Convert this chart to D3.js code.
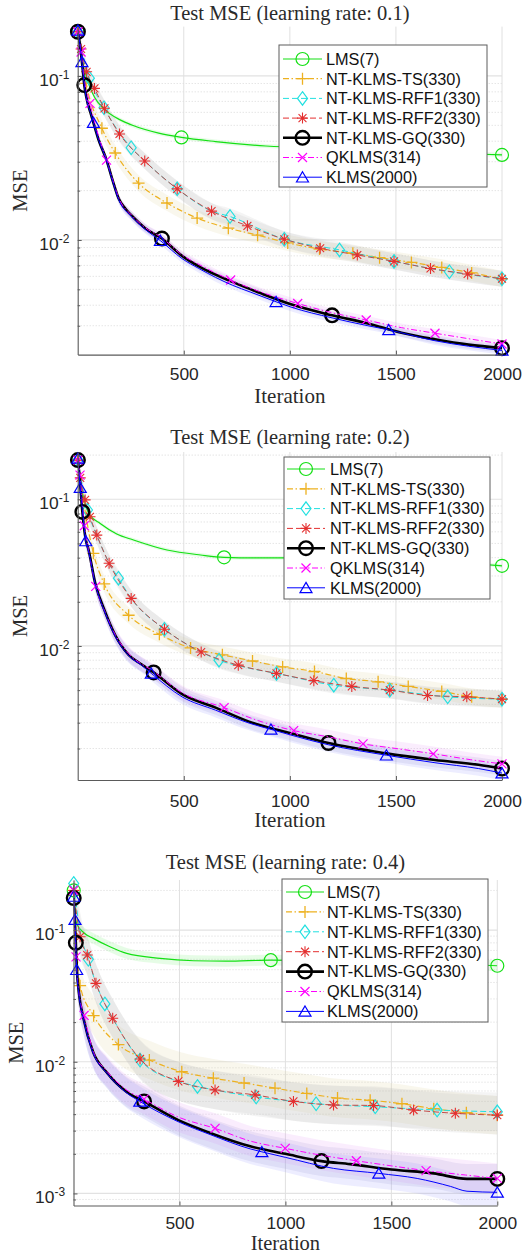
<!DOCTYPE html>
<html>
<head>
<meta charset="utf-8">
<script src="https://cdn.jsdelivr.net/npm/d3@7"></script>
<style>
  html, body { margin: 0; padding: 0; background: #fff; }
  svg { display: block; }
</style>
</head>
<body>
<svg id="chart" width="523" height="1255"></svg>
<script>
// ---- data -------------------------------------------------------------
// Each point: [iteration, test MSE, marker flag]
const seriesLabels = ["LMS(7)", "NT-KLMS-TS(330)", "NT-KLMS-RFF1(330)", "NT-KLMS-RFF2(330)",
                      "NT-KLMS-GQ(330)", "QKLMS(314)", "KLMS(2000)"];
const learningRates = ["0.1", "0.2", "0.4"];
const iterTicks = [500, 1000, 1500, 2000];
const iterLim = [0, 2000];

const mseTicks1 = [1e-2, 1e-1];
const mseTicks2 = [1e-2, 1e-1];
const mseTicks3 = [1e-3, 1e-2, 1e-1];
const mseLim1 = [0.002, 0.2];
const mseLim2 = [0.00122, 0.21];
const mseLim3 = [0.00081, 0.24];

// learning rate 0.1
const lms1 = [[1,0.186,1],[20,0.125],[40,0.1],[60,0.084],[80,0.074],[126,0.0625],[200,0.054],[255,0.0502],[382,0.0448],[489,0.0422,1],[650,0.0398],[887,0.0374],[1200,0.0362],[1600,0.0345],[2000,0.033,1]];
const ts1 = [[1,0.186,1],[40,0.09,1],[114,0.048,1],[177,0.0339,1],[287,0.0222,1],[421,0.0168,1],[563,0.0136,1],[710,0.0118,1],[848,0.0107,1],[990,0.0096,1],[1140,0.0088,1],[1297,0.0083,1],[1423,0.0078,1],[1573,0.0073,1],[1716,0.0068,1],[1857,0.0063,1],[2000,0.0058,1]];
const rffA1 = [[1,0.186,1],[55,0.097,1],[124,0.064,1],[252,0.0365,1],[316,0.0303],[469,0.0205,1],[631,0.015],[718,0.0139,1],[974,0.0101,1],[1234,0.0087,1],[1491,0.0074,1],[1752,0.0064,1],[2000,0.0058,1]];
const rffB1 = [[1,0.186,1],[16,0.146,1],[42,0.106,1],[79,0.084,1],[126,0.0635,1],[197,0.0443,1],[316,0.0303,1],[469,0.0205,1],[631,0.015,1],[800,0.0122,1],[974,0.0101,1],[1143,0.0089,1],[1318,0.0081,1],[1491,0.0074,1],[1663,0.0067,1],[1838,0.0062,1],[2000,0.0058,1]];
const gq1 = [[1,0.186,1],[12,0.15],[22,0.115],[31,0.088,1],[45,0.07],[60,0.06],[74,0.052],[98,0.041],[136,0.0307],[165,0.023],[192,0.018],[225,0.0155],[256,0.014],[318,0.0118],[397,0.0102,1],[492,0.008],[571,0.0069],[729,0.00555],[816,0.005],[887,0.0046],[1005,0.00405],[1199,0.00347,1],[1368,0.0031],[1526,0.00272],[1684,0.00248],[1842,0.0023],[2000,0.00219,1]];
const qk1 = [[1,0.186,1],[16,0.14,1],[31,0.095],[58,0.068,1],[74,0.056],[98,0.043],[136,0.0307,1],[165,0.0232],[192,0.0182],[256,0.0141],[318,0.0119],[397,0.0103],[492,0.0081],[571,0.0071],[721,0.0057,1],[887,0.0047],[1037,0.0041,1],[1199,0.0036],[1360,0.00325,1],[1526,0.00292],[1684,0.0027,1],[1842,0.0025],[2000,0.00232,1]];
const k1 = [[1,0.19,1],[12,0.15],[20,0.122,1],[31,0.088],[45,0.069],[60,0.06],[74,0.052,1],[98,0.041],[136,0.0305],[165,0.0228],[192,0.0178],[256,0.0138],[318,0.0116],[390,0.0099,1],[492,0.0077],[571,0.0067],[729,0.0053],[816,0.0048],[935,0.0042,1],[1005,0.0039],[1199,0.00335],[1368,0.003],[1466,0.00283,1],[1684,0.00243],[1842,0.00225],[2000,0.00212,1]];
const spread1 = [1.03, 1.12, 1.12, 1.12, 1.06, 1.06, 1.06];

// learning rate 0.2
const lms2 = [[1,0.185,1],[20,0.115],[40,0.088],[58,0.078],[106,0.0684],[184,0.058],[263,0.0528],[421,0.0451],[579,0.0417],[690,0.0402,1],[900,0.0398],[1210,0.0398],[1450,0.039],[1684,0.0376],[1850,0.0365],[2000,0.0352,1]];
const ts2 = [[1,0.185,1],[40,0.075,1],[74,0.0428,1],[125,0.0265,1],[240,0.0162,1],[385,0.012,1],[532,0.0097,1],[682,0.0087,1],[824,0.0079,1],[966,0.0072,1],[1116,0.0067,1],[1266,0.006,1],[1416,0.0057,1],[1558,0.0053,1],[1716,0.0049,1],[1857,0.0045,1],[2000,0.00434,1]];
const rffA2 = [[1,0.185,1],[46,0.0845,1],[90,0.057],[148,0.0368],[192,0.029,1],[252,0.0211],[409,0.013,1],[582,0.0091],[666,0.008,1],[800,0.0071],[937,0.0065,1],[1207,0.0054,1],[1471,0.005,1],[1744,0.0045,1],[2000,0.00434,1]];
const rffB2 = [[1,0.185,1],[12,0.14,1],[35,0.099,1],[58,0.076,1],[90,0.057,1],[148,0.0366,1],[252,0.0211,1],[409,0.013,1],[582,0.0091,1],[757,0.0074,1],[937,0.0065,1],[1113,0.0058,1],[1292,0.0053,1],[1471,0.005,1],[1649,0.0046,1],[1834,0.0045,1],[2000,0.00434,1]];
const gq2 = [[1,0.185,1],[10,0.135],[22,0.082,1],[38,0.053],[50,0.046],[82,0.027],[129,0.0171],[176,0.0119],[240,0.0087],[300,0.0075],[358,0.0066,1],[492,0.0047],[650,0.0038],[808,0.00305],[1005,0.00254],[1182,0.00218,1],[1447,0.00186],[1684,0.00167],[1889,0.00155],[2000,0.00146,1]];
const qk2 = [[1,0.185,1],[11,0.146,1],[20,0.1],[31,0.066,1],[50,0.046],[85,0.0255,1],[129,0.017],[176,0.012],[240,0.0089],[358,0.0067],[492,0.0048],[690,0.0038,1],[850,0.0031],[1018,0.00265,1],[1182,0.0024],[1345,0.00215,1],[1500,0.002],[1676,0.00184,1],[1850,0.00168],[2000,0.00157,1]];
const k2 = [[1,0.19,1],[12,0.12,1],[22,0.085],[38,0.052,1],[50,0.045],[82,0.0268],[129,0.0168],[176,0.0117],[240,0.0086],[300,0.0074],[347,0.0065,1],[492,0.0045],[650,0.00365],[808,0.00298],[911,0.0027,1],[1005,0.00247],[1182,0.00212],[1455,0.0018,1],[1684,0.0016],[1889,0.00146],[2000,0.00136,1]];
const spread2 = [1.03, 1.14, 1.14, 1.14, 1.12, 1.12, 1.12];

// learning rate 0.4
const lms3 = [[1,0.2,1],[8,0.13],[15,0.112],[50,0.095],[93,0.0865],[172,0.0747],[251,0.0665],[409,0.061],[567,0.0585],[720,0.058],[931,0.0591,1],[1150,0.0583],[1385,0.0575],[1700,0.056],[2000,0.0536,1]];
const ts3 = [[1,0.2,1],[10,0.095],[20,0.055],[31,0.0378,1],[95,0.0224,1],[212,0.0135,1],[358,0.0103,1],[511,0.0084,1],[660,0.0075,1],[805,0.0069,1],[951,0.0063,1],[1101,0.00575,1],[1246,0.0053,1],[1400,0.0051,1],[1550,0.0048,1],[1700,0.0044,1],[1854,0.0041,1],[2000,0.00393,1]];
const rffA3 = [[1,0.226,1],[30,0.1],[70,0.06,1],[106,0.0394],[148,0.0275,1],[185,0.0214],[314,0.0103,1],[495,0.0071],[585,0.0065,1],[668,0.0061],[862,0.0054,1],[1038,0.005],[1145,0.0048,1],[1424,0.00455,1],[1716,0.0043,1],[2000,0.00417,1]];
const rffB3 = [[1,0.2,1],[31,0.089,1],[65,0.0646,1],[106,0.0394,1],[185,0.0214,1],[314,0.0105,1],[495,0.0071,1],[668,0.0061,1],[857,0.0056,1],[1038,0.005,1],[1227,0.0047,1],[1416,0.00465,1],[1605,0.0043,1],[1802,0.00406,1],[2000,0.00393,1]];
const gq3 = [[1,0.175,1],[11,0.08,1],[16,0.05],[25,0.034],[48,0.021],[93,0.0118],[157,0.0083],[251,0.0059],[333,0.005,1],[495,0.0036],[645,0.00288],[834,0.00228],[1000,0.002],[1170,0.00176,1],[1306,0.00167],[1500,0.00152],[1700,0.00142],[1857,0.00129],[2000,0.00129,1]];
const qk3 = [[1,0.2,1],[12,0.0626,1],[25,0.034],[50,0.0225,1],[93,0.012],[157,0.0085],[251,0.0061],[333,0.0052,1],[495,0.0038],[668,0.00312,1],[834,0.0025],[999,0.0022,1],[1170,0.00195],[1335,0.00177,1],[1500,0.00162],[1664,0.00149,1],[1850,0.00138],[2000,0.0013,1]];
const k3 = [[1,0.18,1],[7,0.12,1],[15,0.05,1],[25,0.033],[48,0.0208],[93,0.0116],[157,0.0082],[251,0.0058],[313,0.005,1],[495,0.0035],[645,0.0028],[834,0.00218],[889,0.00207,1],[1000,0.00188],[1227,0.00155],[1441,0.00142,1],[1622,0.0013],[1780,0.00113],[1857,0.00104],[2000,0.00102,1]];
const spread3 = [1.1, 1.4, 1.4, 1.4, 1.3, 1.3, 1.3];

// ---- appearance -------------------------------------------------------
const styles = [
  { color: "#14e014", width: 1.2, dash: null,            marker: "o", size: 6.5, mw: 1.2 },
  { color: "#edb120", width: 1.2, dash: "6,2.5,1.5,2.5", marker: "+", size: 6,   mw: 1.3 },
  { color: "#22e0e0", width: 1,   dash: "6,3",           marker: "d", size: 5,   mw: 1.2 },
  { color: "#e43030", width: 1,   dash: "6,3",           marker: "*", size: 5.5, mw: 1.1 },
  { color: "#000000", width: 2.6, dash: null,            marker: "o", size: 6.8, mw: 2.4 },
  { color: "#ff00ff", width: 1,   dash: "6,2.5,1.5,2.5", marker: "x", size: 4.5, mw: 1.2 },
  { color: "#0000ff", width: 1,   dash: null,            marker: "^", size: 6,   mw: 1.2 }
];
// the red curve is drawn a touch browner inside the axes, where it sits on the cyan one
const curveColor = ["#14e014", "#edb120", "#22e0e0", "#c24a48", "#000000", "#ff00ff", "#0000ff"];
const bandFill = ["#66ee66", "#d8cc90", "#b8b8b8", "#b8b8b8", "#9090c8", "#e090f0", "#9090ff"];
const bandOpacity = 0.16;

const panels = [
  { lr: learningRates[0], series: [lms1, ts1, rffA1, rffB1, gq1, qk1, k1], spread: spread1, lim: mseLim1, ticks: mseTicks1 },
  { lr: learningRates[1], series: [lms2, ts2, rffA2, rffB2, gq2, qk2, k2], spread: spread2, lim: mseLim2, ticks: mseTicks2 },
  { lr: learningRates[2], series: [lms3, ts3, rffA3, rffB3, gq3, qk3, k3], spread: spread3, lim: mseLim3, ticks: mseTicks3 }
];

const layout = [
  { left: 77.7, right: 502, top: 26.6, bottom: 354.6, titleY: 20, tickY: 25.5, xlabY: 48, ylabX: 26.5, xlabSize: 21,
    legend: { x: 279, y: 45, w: 208, h: 142, row0: 59, rowH: 19.7, l0: 283, l1: 322, tx: 326 } },
  { left: 77.7, right: 502, top: 452, bottom: 780, titleY: 444, tickY: 26.5, xlabY: 47.3, ylabX: 26.5, xlabSize: 21,
    legend: { x: 284, y: 457, w: 206, h: 142, row0: 469, rowH: 19.8, l0: 287, l1: 325, tx: 330 } },
  { left: 73.5, right: 497.3, top: 880, bottom: 1205.5, titleY: 868.5, tickY: 23.3, xlabY: 44.3, ylabX: 22.5, xlabSize: 20.5,
    legend: { x: 282, y: 879, w: 206, h: 143, row0: 892, rowH: 19.9, l0: 286, l1: 324, tx: 327 } }
];

const SANS = "'Liberation Sans', Arial, sans-serif";
const SERIF = "'Liberation Serif', 'Times New Roman', serif";
const TXT = "#262626";

const svg = d3.select("#chart");
const defs = svg.append("defs");

function drawMarker(g, type, cx, cy, st) {
  const s = st.size;
  const common = sel => sel.attr("fill", "none").attr("stroke", st.color).attr("stroke-width", st.mw);
  if (type === "o") {
    g.append("circle").attr("cx", cx).attr("cy", cy).attr("r", s).call(common);
    return;
  }
  let d = "";
  if (type === "+") d = `M${cx - s},${cy}H${cx + s}M${cx},${cy - s}V${cy + s}`;
  else if (type === "x") d = `M${cx - s},${cy - s}L${cx + s},${cy + s}M${cx - s},${cy + s}L${cx + s},${cy - s}`;
  else if (type === "*") {
    const a = s * 0.72;
    d = `M${cx - s},${cy}H${cx + s}M${cx},${cy - s}V${cy + s}M${cx - a},${cy - a}L${cx + a},${cy + a}M${cx - a},${cy + a}L${cx + a},${cy - a}`;
  } else if (type === "d") d = `M${cx},${cy - s * 1.35}L${cx + s},${cy}L${cx},${cy + s * 1.35}L${cx - s},${cy}Z`;
  else if (type === "^") d = `M${cx},${cy - s * 0.9}L${cx + s},${cy + s * 0.8}L${cx - s},${cy + s * 0.8}Z`;
  g.append("path").attr("d", d).call(common).attr("stroke-linejoin", "miter");
}

panels.forEach((P, i) => {
  const L = layout[i];
  const x = d3.scaleLinear().domain(iterLim).range([L.left, L.right]);
  const y = d3.scaleLog().domain(P.lim).range([L.bottom, L.top]);
  const g = svg.append("g");

  const clipId = "plotclip" + i;
  defs.append("clipPath").attr("id", clipId).append("rect")
    .attr("x", L.left).attr("y", L.top).attr("width", L.right - L.left).attr("height", L.bottom - L.top);

  // minor decade values inside the limits
  const minor = [];
  for (let e = -4; e <= 0; e++) for (let m = 2; m <= 9; m++) {
    const v = m * Math.pow(10, e);
    if (v > P.lim[0] && v < P.lim[1]) minor.push(v);
  }

  // grid
  const grid = g.append("g");
  grid.selectAll(".gmin").data(minor).join("line")
    .attr("x1", L.left).attr("x2", L.right).attr("y1", d => y(d)).attr("y2", d => y(d))
    .attr("stroke", "#cfcfcf").attr("stroke-width", 0.8).attr("stroke-dasharray", "1,2");
  grid.selectAll(".gmaj").data(P.ticks).join("line")
    .attr("x1", L.left).attr("x2", L.right).attr("y1", d => y(d)).attr("y2", d => y(d))
    .attr("stroke", "#e2e2e2").attr("stroke-width", 1.2);
  grid.selectAll(".gx").data(iterTicks).join("line")
    .attr("x1", d => x(d)).attr("x2", d => x(d)).attr("y1", L.top).attr("y2", L.bottom)
    .attr("stroke", "#e0e0e0").attr("stroke-width", 1);

  // confidence bands
  const bands = g.append("g").attr("clip-path", `url(#${clipId})`);
  P.series.forEach((data, si) => {
    const f = P.spread[si];
    const area = d3.area().x(d => x(d[0])).y0(d => y(d[1] / f)).y1(d => y(d[1] * f)).curve(d3.curveMonotoneX);
    bands.append("path").attr("d", area(data)).attr("fill", bandFill[si]).attr("opacity", bandOpacity);
  });

  // curves and markers
  const line = d3.line().x(d => x(d[0])).y(d => y(d[1])).curve(d3.curveMonotoneX);
  P.series.forEach((data, si) => {
    const st = styles[si];
    const sg = g.append("g");
    sg.append("path").attr("d", line(data)).attr("fill", "none")
      .attr("stroke", curveColor[si]).attr("stroke-width", st.width)
      .attr("stroke-dasharray", st.dash).attr("stroke-linejoin", "round")
      .attr("clip-path", `url(#${clipId})`);
    data.filter(d => d[2]).forEach(d => drawMarker(sg, st.marker, x(d[0]), y(d[1]), st));
  });

  // axes
  const xAxis = d3.axisBottom(x).tickValues(iterTicks).tickSize(-4).tickSizeOuter(0).tickFormat(d3.format("d"));
  const gx = g.append("g").attr("transform", `translate(0,${L.bottom})`).call(xAxis);
  gx.select(".domain").attr("stroke", "#5a5a5a").attr("stroke-width", 1.1);
  gx.selectAll(".tick line").attr("stroke", "#5a5a5a");
  gx.selectAll(".tick text").attr("y", L.tickY).attr("dy", null)
    .attr("font-family", SANS).attr("font-size", 17.4).attr("fill", TXT);

  const yMinor = d3.axisLeft(y).tickValues(minor).tickSize(-2.5).tickSizeOuter(0).tickFormat(() => "");
  const gym = g.append("g").attr("transform", `translate(${L.left},0)`).call(yMinor);
  gym.select(".domain").remove();
  gym.selectAll(".tick line").attr("stroke", "#5a5a5a");

  const yAxis = d3.axisLeft(y).tickValues(P.ticks).tickSize(-4).tickSizeOuter(0).tickFormat(() => "");
  const gy = g.append("g").attr("transform", `translate(${L.left},0)`).call(yAxis);
  gy.select(".domain").attr("stroke", "#5a5a5a").attr("stroke-width", 1.1);
  gy.selectAll(".tick line").attr("stroke", "#5a5a5a");
  gy.selectAll(".tick text").remove();
  gy.selectAll(".tick").each(function (d) {
    const t = d3.select(this).append("text")
      .attr("x", -8.4).attr("y", 9.5).attr("text-anchor", "end")
      .attr("font-family", SANS).attr("font-size", 17.4).attr("fill", TXT);
    t.append("tspan").text("10");
    t.append("tspan").attr("dy", -7).attr("font-size", 12).text(String(Math.round(Math.log10(d))));
  });

  // titles
  const cx = (L.left + L.right) / 2;
  g.append("text").attr("x", cx).attr("y", L.titleY).attr("text-anchor", "middle")
    .attr("font-family", SERIF).attr("font-size", 20.5).attr("font-weight", 400).attr("fill", "#2a2a2a")
    .text(`Test MSE (learning rate: ${P.lr})`);
  g.append("text").attr("x", cx).attr("y", L.bottom + L.xlabY).attr("text-anchor", "middle")
    .attr("font-family", SERIF).attr("font-size", L.xlabSize).attr("font-weight", 400).attr("fill", "#2a2a2a")
    .text("Iteration");
  g.append("text").attr("transform", `translate(${L.ylabX},${(L.top + L.bottom) / 2}) rotate(-90)`)
    .attr("text-anchor", "middle")
    .attr("font-family", SERIF).attr("font-size", 20.5).attr("font-weight", 400).attr("fill", "#2a2a2a")
    .text("MSE");

  // legend
  const Lg = L.legend;
  const lg = g.append("g");
  lg.append("rect").attr("x", Lg.x).attr("y", Lg.y).attr("width", Lg.w).attr("height", Lg.h)
    .attr("fill", "#fff").attr("stroke", "#5c5c5c").attr("stroke-width", 1);
  seriesLabels.forEach((name, si) => {
    const st = styles[si];
    const ry = Lg.row0 + si * Lg.rowH;
    lg.append("line").attr("x1", Lg.l0).attr("x2", Lg.l1).attr("y1", ry).attr("y2", ry)
      .attr("stroke", st.color).attr("stroke-width", st.width).attr("stroke-dasharray", st.dash);
    drawMarker(lg, st.marker, (Lg.l0 + Lg.l1) / 2, ry, st);
    lg.append("text").attr("x", Lg.tx).attr("y", ry + 5.8)
      .attr("font-family", SANS).attr("font-size", 16.3).attr("fill", "#111")
      .text(name);
  });
});
</script>
</body>
</html>
